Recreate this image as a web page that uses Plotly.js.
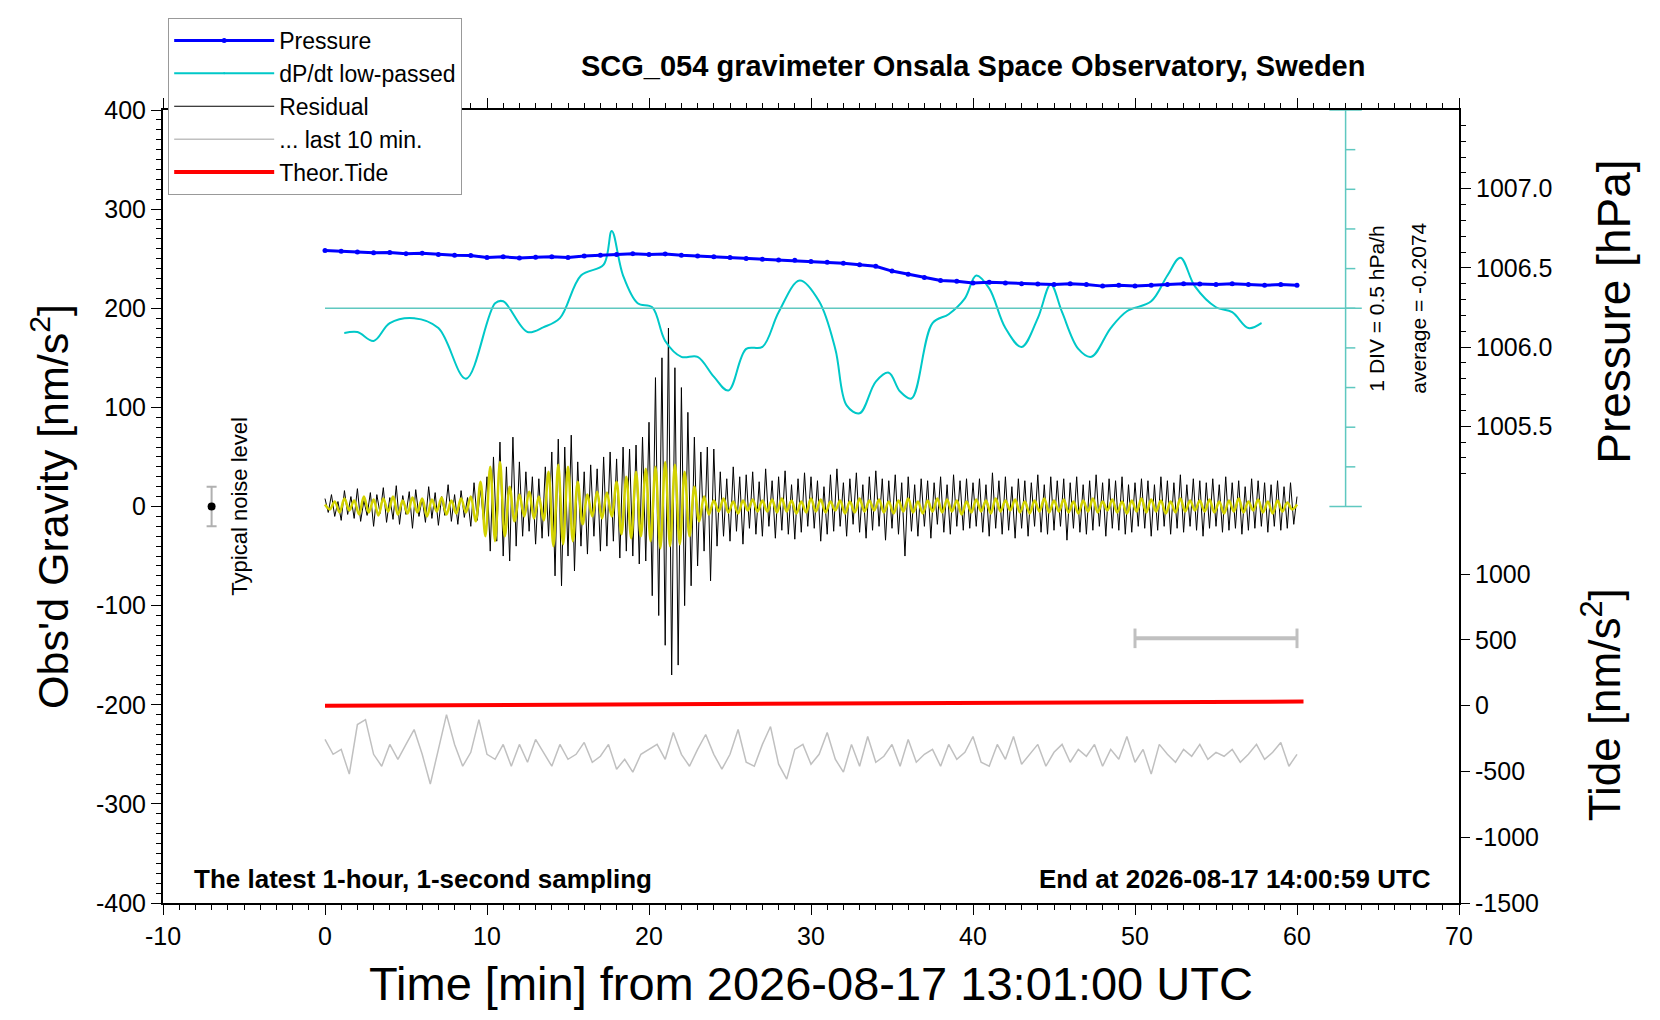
<!DOCTYPE html>
<html>
<head>
<meta charset="utf-8">
<script src="https://cdn.plot.ly/plotly-3.0.1.min.js"></script>
<style>
  body { margin: 0; background: #fff; }
  #chart { width: 1660px; height: 1020px; }
</style>
</head>
<body>
<div id="chart"></div>
<script>
// residual, 0.2 min step from t=0
const residualStep = 0.2;
const residual = [
  8,-6,12,-10,5,-14,16,-8,10,-12,18,-15,6,-9,14,-20,12,-7,19,-16,9,-13,21,-18,11,-8,15,-22,17,-10,8,-16,20,-12,14,-19,10,-9,22,-15,12,-18,16,-11,9,-20,24,-14,18,-17,
  30,-45,50,-35,65,-50,40,-55,70,-40,45,-30,35,-25,30,-38,28,-32,40,-30,55,-70,68,-80,60,-50,72,-65,45,-40,35,-48,42,-30,38,-45,50,-40,55,-35,48,-52,60,-45,58,-50,62,-58,70,-55,
  85,-90,130,-110,150,-140,180,-170,140,-160,120,-100,95,-80,70,-60,55,-45,60,-75,58,-40,35,-30,28,-35,40,-25,30,-38,32,-22,35,-28,25,-30,38,-20,26,-32,30,-24,36,-28,22,-33,28,-26,34,-20,
  30,-22,26,-35,20,-28,32,-25,38,-20,24,-30,28,-18,34,-26,22,-32,30,-24,36,-20,28,-34,26,-22,32,-28,24,-50,30,-25,22,-30,28,-20,26,-32,24,-18,30,-26,22,-28,32,-20,26,-24,28,-22,
  24,-20,28,-26,22,-30,34,-22,26,-28,30,-24,20,-32,28,-22,26,-30,24,-20,32,-26,22,-28,30,-24,26,-20,28,-34,24,-22,30,-26,22,-28,26,-24,32,-20,24,-30,28,-22,26,-24,30,-28,22,-26,
  24,-20,28,-22,26,-30,22,-24,30,-20,26,-28,24,-22,32,-26,22,-20,28,-24,26,-30,24,-22,28,-20,22,-26,30,-24,24,-22,26,-28,20,-24,28,-22,26,-20,24,-26,22,-20,26,-24,20,-22,24,-18,10
];

// band-passed residual (yellow), 0.3 min step
const filteredStep = 0.3;
const filtered = [
  2,-3,5,-6,8,-4,6,-8,10,-6,7,-9,8,-5,10,-8,6,-7,9,-6,8,-10,7,-5,9,-8,6,-7,8,-6,
  10,-15,25,-30,40,-35,45,-30,20,-15,12,-10,15,-12,10,-14,35,-40,42,-38,40,-35,25,-18,12,-10,15,-12,14,-10,
  25,-28,30,-32,35,-30,38,-35,40,-42,45,-40,42,-38,35,-30,20,-15,10,-8,6,-5,8,-6,5,-7,6,-4,7,-5,
  6,-5,7,-6,8,-5,6,-7,5,-6,8,-5,7,-6,5,-4,6,-7,5,-6,8,-5,6,-4,7,-6,5,-7,6,-5,
  8,-6,5,-7,6,-5,8,-6,7,-5,6,-8,5,-6,7,-5,6,-7,8,-5,6,-4,7,-6,5,-7,6,-5,8,-6,
  6,-5,7,-6,5,-7,6,-5,8,-6,5,-4,7,-6,5,-7,6,-5,8,-6,7,-5,6,-7,5,-6,8,-5,6,-4,
  6,-5,7,-6,5,-7,6,-5,8,-6,5,-4,7,-6,5,-7,6,-5,4,-3,2
];

// last 10 min residual replotted, 0.5 min step
const lastStep = 0.5;
const last10 = [
  -235,-250,-245,-270,-220,-215,-250,-262,-240,-255,-240,-225,-250,-280,-245,-210,-240,-262,-248,-215,
  -250,-255,-240,-262,-240,-258,-235,-248,-262,-240,-255,-250,-238,-258,-252,-240,-265,-255,-268,-250,
  -245,-240,-255,-228,-250,-262,-245,-230,-250,-265,-250,-225,-258,-262,-240,-222,-260,-275,-245,-240,
  -260,-250,-228,-255,-268,-240,-262,-232,-258,-252,-240,-262,-235,-258,-250,-245,-262,-240,-255,-248,
  -232,-258,-262,-240,-255,-232,-260,-250,-240,-262,-248,-240,-258,-245,-252,-240,-262,-245,-255,-232,
  -258,-245,-270,-240,-250,-258,-245,-252,-240,-255,-248,-252,-245,-258,-250,-240,-255,-248,-238,-262,-250
];

// pressure [hPa], one per minute
const pressure = [
  1006.61,1006.605,1006.60,1006.595,1006.598,1006.59,1006.592,1006.585,1006.58,1006.578,
  1006.565,1006.57,1006.562,1006.568,1006.57,1006.565,1006.575,1006.58,1006.585,1006.59,
  1006.585,1006.588,1006.58,1006.575,1006.57,1006.565,1006.56,1006.555,1006.55,1006.548,
  1006.54,1006.535,1006.53,1006.52,1006.51,1006.48,1006.46,1006.44,1006.42,1006.415,
  1006.405,1006.41,1006.405,1006.40,1006.398,1006.395,1006.40,1006.395,1006.385,1006.39,
  1006.385,1006.39,1006.395,1006.40,1006.398,1006.395,1006.40,1006.395,1006.39,1006.395,1006.39
];

// dP/dt low-passed, plotted in gravity units around the 200 baseline
const dpdtTime = [1.2,2,3,4,5.5,7,8.7,10.5,11,12.5,13.5,14.5,15.8,17.2,17.7,18.4,19.3,20.2,21,22,23,24,24.9,26,27,28,29.3,30.5,31.5,32.2,33,34,34.8,35.5,36.2,37.5,38.5,39.5,40.2,41,42,43,44,44.8,45.5,46.5,47.3,48.5,49.5,51,52,52.8,53.7,55,56,57,57.8];
const dpdt = [175,176,167,185,190,180,129,205,207,176,181,190,233,244,278,233,205,201,167,151,151,131,117,159,161,196,228,207,159,102,94,126,135,116,109,185,194,210,233,220,180,161,190,224,196,159,151,180,197,207,233,251,222,201,196,180,185];

const tideTime = [0, 60.4];
const tide = [0, 32];

const xTicks = [-10, 0, 10, 20, 30, 40, 50, 60, 70];
const gravTicks = [-400, -300, -200, -100, 0, 100, 200, 300, 400];
const pressTicks = [1005.5, 1006.0, 1006.5, 1007.0];
const tideTicks = [-1500, -1000, -500, 0, 500, 1000];

const mk = (n, step) => Array.from({length: n}, (_, i) => +(i * step).toFixed(2));
const lab = arr => arr.map(v => String(v));

const FONT = 'Liberation Sans, Arial, Helvetica, sans-serif';
const CYAN = '#00c8c8';
const CYAN_LINE = '#5fc8c0';

const traces = [
  {
    x: mk(pressure.length, 1), y: pressure, yaxis: 'y2', type: 'scatter', mode: 'lines+markers',
    line: { color: '#0000ff', width: 3 }, marker: { color: '#0000ff', size: 5 },
    name: 'Pressure', legendrank: 1
  },
  {
    x: mk(last10.length, lastStep), y: last10, type: 'scatter', mode: 'lines',
    line: { color: '#c0c0c0', width: 1.5 }, name: '... last 10 min.', legendrank: 4
  },
  {
    x: mk(residual.length, residualStep), y: residual, type: 'scatter', mode: 'lines',
    line: { color: '#000', width: 1 }, name: 'Residual', legendrank: 3
  },
  {
    x: mk(filtered.length, filteredStep), y: filtered, type: 'scatter', mode: 'lines',
    line: { color: '#d2d200', width: 2.5, shape: 'spline' }, showlegend: false
  },
  {
    x: dpdtTime, y: dpdt, type: 'scatter', mode: 'lines+markers',
    line: { color: CYAN, width: 2, shape: 'spline', smoothing: 1 },
    marker: { color: CYAN, size: 1 },
    name: 'dP/dt low-passed', legendrank: 2
  },
  {
    x: tideTime, y: tide, yaxis: 'y3', type: 'scatter', mode: 'lines',
    line: { color: '#ff0000', width: 4 }, name: 'Theor.Tide', legendrank: 5
  },
  {
    x: [-7], y: [0], type: 'scatter', mode: 'markers',
    marker: { color: '#000', size: 8 },
    error_y: { type: 'constant', value: 20, color: '#b0b0b0', thickness: 2, width: 5 },
    showlegend: false
  },
  {
    x: [50, 60], y: [-133, -133], type: 'scatter', mode: 'lines+markers',
    line: { color: '#c0c0c0', width: 4 },
    marker: { symbol: 'line-ns', size: 14, line: { color: '#c0c0c0', width: 3 } },
    showlegend: false
  }
];

const shapes = [
  { type: 'line', xref: 'x', yref: 'y', x0: 0, x1: 64, y0: 200, y1: 200, line: { color: CYAN_LINE, width: 1.5 } },
  { type: 'line', xref: 'x', yref: 'y', x0: 63, x1: 63, y0: 0, y1: 400, line: { color: CYAN_LINE, width: 1.5 } },
  { type: 'line', xref: 'x', yref: 'y', x0: 62, x1: 64, y0: 0, y1: 0, line: { color: CYAN_LINE, width: 1.5 } },
  { type: 'line', xref: 'x', yref: 'y', x0: 62, x1: 64, y0: 400, y1: 400, line: { color: CYAN_LINE, width: 1.5 } }
];
for (let v = 40; v < 400; v += 40) {
  shapes.push({ type: 'line', xref: 'x', yref: 'y', x0: 63, x1: 63.6, y0: v, y1: v, line: { color: CYAN_LINE, width: 1.5 } });
}

const axisBase = {
  showline: true, linecolor: '#000', linewidth: 2, ticks: 'outside', tickcolor: '#000',
  showgrid: false, zeroline: false, tickfont: { size: 25, color: '#000', family: FONT }
};

const layout = {
  width: 1660, height: 1020,
  margin: { l: 163, r: 201, t: 110, b: 117 },
  paper_bgcolor: '#fff', plot_bgcolor: '#fff',
  font: { family: FONT, color: '#000' },
  showlegend: true,
  legend: {
    x: 0.004, y: 1.116, xanchor: 'left', yanchor: 'top',
    bgcolor: '#fff', bordercolor: '#999', borderwidth: 1,
    font: { size: 23, family: FONT }, traceorder: 'normal', itemwidth: 100
  },
  xaxis: Object.assign({}, axisBase, {
    range: [-10, 70], tickvals: xTicks, ticktext: lab(xTicks), ticklen: 10, mirror: 'ticks',
    minor: { dtick: 1, ticks: 'outside', ticklen: 5, tickcolor: '#000' },
    title: { text: 'Time [min] from 2026-08-17 13:01:00 UTC', font: { size: 47, family: FONT }, standoff: 18 }
  }),
  yaxis: Object.assign({}, axisBase, {
    range: [-400, 400], tickvals: gravTicks, ticktext: lab(gravTicks), ticklen: 10,
    minor: { dtick: 10, ticks: 'outside', ticklen: 5, tickcolor: '#000' },
    title: { text: 'Obs\'d Gravity [nm/s<sup>2</sup>]', font: { size: 43, family: FONT }, standoff: 14 }
  }),
  yaxis2: Object.assign({}, axisBase, {
    overlaying: 'y', side: 'right', anchor: 'x',
    range: [1002.49, 1007.497], tickvals: pressTicks,
    ticktext: ['1005.5', '1006.0', '1006.5', '1007.0'], ticklen: 10,
    minor: { tickvals: [1005.2,1005.3,1005.4,1005.6,1005.7,1005.8,1005.9,1006.1,1006.2,1006.3,1006.4,1006.6,1006.7,1006.8,1006.9,1007.1,1007.2,1007.3,1007.4], ticks: 'outside', ticklen: 5, tickcolor: '#000' }
  }),
  yaxis3: Object.assign({}, axisBase, {
    overlaying: 'y', side: 'right', anchor: 'x', showline: false,
    range: [-1500, 4530], tickvals: tideTicks, ticktext: lab(tideTicks), ticklen: 10
  }),
  shapes: shapes,
  annotations: [
    { xref: 'paper', yref: 'paper', x: 0.625, y: 1.055, xanchor: 'center', yanchor: 'middle', showarrow: false,
      text: '<b>SCG_054 gravimeter Onsala Space Observatory, Sweden</b>', font: { size: 29 } },
    { xref: 'paper', yref: 'paper', x: 0.022, y: 0.03, xanchor: 'left', yanchor: 'middle', showarrow: false,
      text: '<b>The latest 1-hour, 1-second sampling</b>', font: { size: 26 } },
    { xref: 'paper', yref: 'paper', x: 0.98, y: 0.03, xanchor: 'right', yanchor: 'middle', showarrow: false,
      text: '<b>End at 2026-08-17 14:00:59 UTC</b>', font: { size: 26 } },
    { xref: 'x', yref: 'y', x: -5.3, y: 0, showarrow: false, textangle: -90,
      xanchor: 'center', yanchor: 'middle', text: 'Typical noise level', font: { size: 22 } },
    { xref: 'x', yref: 'y', x: 64.9, y: 200, showarrow: false, textangle: -90,
      xanchor: 'center', yanchor: 'middle', text: '1 DIV = 0.5 hPa/h', font: { size: 21 } },
    { xref: 'x', yref: 'y', x: 67.5, y: 200, showarrow: false, textangle: -90,
      xanchor: 'center', yanchor: 'middle', text: 'average = -0.2074', font: { size: 21 } },
    { xref: 'paper', yref: 'paper', x: 1.12, y: 0.745, showarrow: false, textangle: -90,
      xanchor: 'center', yanchor: 'middle', text: 'Pressure [hPa]', font: { size: 46 } },
    { xref: 'paper', yref: 'paper', x: 1.11, y: 0.25, showarrow: false, textangle: -90,
      xanchor: 'center', yanchor: 'middle', text: 'Tide [nm/s<sup>2</sup>]', font: { size: 44 } }
  ]
};

Plotly.newPlot('chart', traces, layout, { displayModeBar: false, staticPlot: true });
</script>
</body>
</html>
